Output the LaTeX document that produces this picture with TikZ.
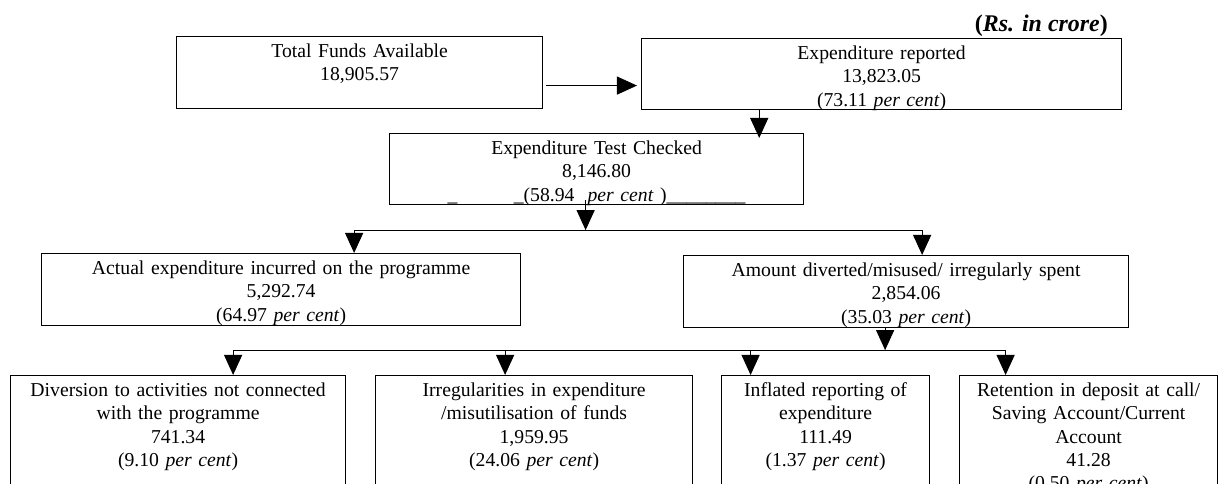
\documentclass[tikz,border=0pt]{standalone}
\usepackage{fontspec}
\setmainfont{Liberation Serif}
\usetikzlibrary{arrows.meta}

\begin{document}
\begin{tikzpicture}[x=0.025cm, y=-0.025cm, line width=0.8pt,
  box/.style={draw, inner sep=0pt, anchor=north west, align=center,
    text height=0.525cm, font=\fontsize{14}{16.6}\selectfont},
  flow/.style={-{Triangle[length=0.5cm,width=0.45cm]}},
  both/.style={{Triangle[length=0.5cm,width=0.45cm]}-{Triangle[length=0.5cm,width=0.45cm]}}]

\path[use as bounding box, clip] (0,0) rectangle (1219,484);

% unit
\node[anchor=base east, font=\fontsize{17}{20}\selectfont\bfseries] (unit) at (1113,32) {(\textit{Rs. in crore})};

% top row
\node[box, text width=9.15cm, text depth=1.275cm] (fund) at (176,36) {Total Funds Available\\18,905.57};
\node[box, text width=12cm, text depth=1.25cm] (rep) at (641,38) {Expenditure reported\\13,823.05\\(73.11 \textit{per cent})};
\draw[flow] ([shift={(3,13)}]fund.east) coordinate (ab) -- ([xshift=-0.1cm]rep.west |- ab);

% test checked
\node[box, text width=10.35cm, text depth=1.25cm] (test) at (389,133) {Expenditure Test Checked\\8,146.80\\\_\hspace{40pt}\_(58.94~ \textit{per cent} )\_\_\_\_\_\_\_\_};
\coordinate (bc) at ([shift={(-45,5)}]test.north east);
\draw[flow] (bc |- rep.south) -- (bc);

% second row
\node[box, text width=11.975cm, text depth=1.275cm] (actual) at (41,253) {Actual expenditure incurred on the programme\\5,292.74\\(64.97 \textit{per cent})};
\node[box, text width=11.125cm, text depth=1.275cm] (diverted) at (683,255) {Amount diverted/misused/ irregularly spent\\2,854.06\\(35.03 \textit{per cent})};
\draw[flow] ([shift={(-11,-5)}]test.south) -- ([shift={(-11,25)}]test.south) coordinate (l1);
\draw[both] ([shift={(73,0)}]actual.north) |- (l1) -| ([shift={(16,0)}]diverted.north);

% third row
\node[box, text width=8.375cm, text depth=2.725cm] (g1) at (10,375) {Diversion to activities not connected\\with the programme\\741.34\\(9.10 \textit{per cent})};
\node[box, text width=7.925cm, text depth=2.725cm] (g2) at (375,375) {Irregularities in expenditure\\/misutilisation of funds\\1,959.95\\(24.06 \textit{per cent})};
\node[box, text width=5.2cm, text depth=2.725cm] (g3) at (721,375) {Inflated reporting of\\expenditure\\111.49\\(1.37 \textit{per cent})};
\node[box, text width=6.45cm, text depth=2.725cm] (g4) at (959,375) {Retention in deposit at call/\\Saving Account/Current\\Account\\41.28\\(0.50 \textit{per cent})};
\draw[flow] ([shift={(-21,0)}]diverted.south) -- ([shift={(-21,22)}]diverted.south) coordinate (l2);
\draw[both] ([shift={(55,0)}]g1.north) |- (l2) -| ([shift={(-83,0)}]g4.north);
\draw[flow] ([shift={(-29,0)}]g2.north |- l2) -- ([shift={(-29,0)}]g2.north);
\draw[flow] ([shift={(-75,0)}]g3.north |- l2) -- ([shift={(-75,0)}]g3.north);

\end{tikzpicture}
\end{document}
